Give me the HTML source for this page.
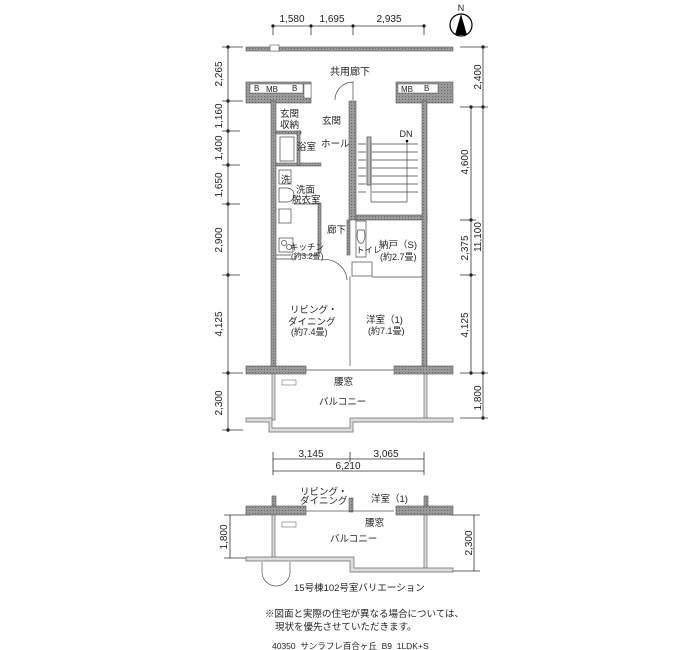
<!DOCTYPE html>
<html><head><meta charset="utf-8"><style>
body{margin:0;background:#fff}
svg{display:block}
text{font-family:"Liberation Sans","Noto Sans CJK JP",sans-serif;fill:#222}
</style></head><body>
<svg width="700" height="650" viewBox="0 0 700 650" xmlns="http://www.w3.org/2000/svg">
<defs>
<pattern id="h" width="3" height="3" patternUnits="userSpaceOnUse"><rect width="3" height="3" fill="#9a9a9a"/><rect width="1" height="1" fill="#666"/></pattern>
</defs>
<g stroke="#333" stroke-width="0.8" fill="none">
<line x1="273" y1="26" x2="424" y2="26"/>
<g fill="#000"><circle cx="273" cy="26" r="1.3"/><circle cx="311" cy="26" r="1.3"/><circle cx="353" cy="26" r="1.3"/><circle cx="424" cy="26" r="1.3"/></g>
<line x1="273" y1="26" x2="273" y2="35"/><line x1="311" y1="26" x2="311" y2="35"/><line x1="353" y1="26" x2="353" y2="35"/><line x1="424" y1="26" x2="424" y2="35"/>
<line x1="228" y1="47" x2="228" y2="432"/>
<g fill="#000"><circle cx="228" cy="47" r="1.3"/><circle cx="228" cy="101" r="1.3"/><circle cx="228" cy="131" r="1.3"/><circle cx="228" cy="165" r="1.3"/><circle cx="228" cy="204" r="1.3"/><circle cx="228" cy="275" r="1.3"/><circle cx="228" cy="373" r="1.3"/><circle cx="228" cy="430" r="1.3"/></g>
<line x1="222" y1="47" x2="243" y2="47"/><line x1="222" y1="101" x2="243" y2="101"/><line x1="222" y1="131" x2="240" y2="131"/><line x1="222" y1="165" x2="240" y2="165"/><line x1="222" y1="204" x2="240" y2="204"/><line x1="222" y1="275" x2="240" y2="275"/><line x1="222" y1="373" x2="243" y2="373"/><line x1="222" y1="430" x2="243" y2="430"/>
<line x1="483" y1="47" x2="483" y2="418"/>
<line x1="471" y1="107" x2="471" y2="373"/>
<g fill="#000"><circle cx="483" cy="47" r="1.3"/><circle cx="483" cy="107" r="1.3"/><circle cx="471" cy="107" r="1.3"/><circle cx="471" cy="220" r="1.3"/><circle cx="471" cy="275" r="1.3"/><circle cx="471" cy="373" r="1.3"/><circle cx="483" cy="373" r="1.3"/><circle cx="483" cy="418" r="1.3"/></g>
<line x1="460" y1="47" x2="488" y2="47"/><line x1="460" y1="107" x2="488" y2="107"/><line x1="460" y1="220" x2="476" y2="220"/><line x1="460" y1="275" x2="476" y2="275"/><line x1="460" y1="373" x2="488" y2="373"/><line x1="460" y1="418" x2="488" y2="418"/>
</g>
<g font-size="10" text-anchor="middle">
<text x="292" y="22">1,580</text><text x="332" y="22">1,695</text><text x="389" y="22">2,935</text>
</g>
<g font-size="10" text-anchor="middle">
<text transform="translate(222,74) rotate(-90)">2,265</text>
<text transform="translate(222,116) rotate(-90)">1,160</text>
<text transform="translate(222,148) rotate(-90)">1,400</text>
<text transform="translate(222,185) rotate(-90)">1,650</text>
<text transform="translate(222,240) rotate(-90)">2,900</text>
<text transform="translate(222,324) rotate(-90)">4,125</text>
<text transform="translate(222,403) rotate(-90)">2,300</text>
<text transform="translate(481,77) rotate(-90)">2,400</text>
<text transform="translate(468,162) rotate(-90)">4,600</text>
<text transform="translate(468,248) rotate(-90)">2,375</text>
<text transform="translate(468,325) rotate(-90)">4,125</text>
<text transform="translate(481,237) rotate(-90)">11,100</text>
<text transform="translate(481,398) rotate(-90)">1,800</text>
</g>
<circle cx="461" cy="25" r="11" fill="none" stroke="#000" stroke-width="1.2"/>
<polygon points="461,14 455,35 467,35" fill="#000"/>
<text x="461" y="11" font-size="9" text-anchor="middle">N</text>
<rect x="246" y="47" width="207" height="4" fill="url(#h)" stroke="#555" stroke-width="0.6"/>
<rect x="270" y="45" width="9" height="6" fill="#fff" stroke="#555" stroke-width="0.6"/>
<text x="350" y="75" font-size="10" text-anchor="middle">共用廊下</text>
<rect x="246" y="82" width="65" height="21" fill="url(#h)" stroke="#555" stroke-width="0.6"/>
<rect x="250" y="84" width="53" height="9" fill="#fff" stroke="#555" stroke-width="0.5"/>
<rect x="396" y="82" width="57" height="21" fill="url(#h)" stroke="#555" stroke-width="0.6"/>
<rect x="398" y="84" width="40" height="9" fill="#fff" stroke="#555" stroke-width="0.5"/>
<g font-size="8"><text x="254" y="91">B</text><text x="266" y="92">MB</text><text x="292" y="91">B</text><text x="401" y="92">MB</text><text x="424" y="91">B</text></g>
<rect x="304" y="84" width="7" height="14" fill="#fff" stroke="#555" stroke-width="0.5"/>
<g fill="url(#h)" stroke="#555" stroke-width="0.6">
<rect x="271" y="101" width="5" height="266"/>
<rect x="349" y="101" width="7" height="119"/>
<rect x="356" y="215" width="71" height="5"/>
<rect x="422" y="101" width="5" height="266"/>
<rect x="246" y="366" width="60" height="8"/>
<rect x="394" y="366" width="59" height="8"/>
<rect x="276" y="131" width="25" height="3"/>
<rect x="276" y="163" width="45" height="3"/>
<rect x="297" y="131" width="3" height="34"/>
<rect x="318" y="203" width="3" height="50"/>
<rect x="347" y="220" width="3" height="35"/>
</g>
<g stroke="#444" stroke-width="0.7" fill="none">
<rect x="280" y="137" width="14" height="24"/>
<path d="M335,100 A18,18 0 0 1 353,82 L353,100"/>
<rect x="279" y="170" width="12" height="14"/>
<path d="M279,188 h8 a6,6 0 0 1 0,14 h-8z"/>
<rect x="279" y="209" width="12" height="14"/>
<rect x="279" y="238" width="14" height="14"/>
<circle cx="284" cy="243" r="2.5"/><circle cx="289" cy="247" r="2.5"/>
<path d="M294,204 h24 M276,255 h15 M298,255 h20 M276,259 h20"/>
<path d="M321,260 A22,22 0 0 1 347,280"/>
<rect x="356" y="221" width="10" height="36"/>
<path d="M358,230 a4,8 0 1 0 6,0z"/>
<rect x="352" y="262" width="20" height="14"/>
<path d="M372,277 h50 M350,276 v90 M306,370 h88"/>
<path d="M358,144 h8 M358,152 h8 M358,160 h8 M358,168 h8 M358,176 h8 M358,184 h8 M358,192 h8"/>
<path d="M372,144 h46 M372,152 h46 M372,160 h46 M372,168 h46 M372,176 h46 M372,184 h46 M372,192 h46"/>
<rect x="367" y="137" width="4" height="48" fill="#bbb"/>
<path d="M371,142 v60 h36 v-60"/>
</g>
<circle cx="407" cy="141" r="1.3" fill="#000"/>
<text x="406" y="137" font-size="9" text-anchor="middle">DN</text>
<g font-size="9.5">
<text x="280" y="117">玄関</text><text x="280" y="128">収納</text>
<text x="322" y="124">玄関</text>
<text x="297" y="150">浴室</text>
<text x="321" y="147">ホール</text>
<text x="281" y="183">洗</text>
<text x="296" y="193">洗面</text><text x="292" y="203">脱衣室</text>
<text x="327" y="233">廊下</text>
<text x="290" y="250" font-size="8.5">キッチン</text>
<text x="291" y="259" font-size="8">(約3.2畳)</text>
<text x="356" y="253" font-size="8.5">トイレ</text>
<text x="379" y="248">納戸（S)</text>
<text x="380" y="260" font-size="9">(約2.7畳)</text>
<text x="290" y="313">リビング・</text>
<text x="288" y="325">ダイニング</text>
<text x="291" y="335" font-size="9">(約7.4畳)</text>
<text x="366" y="323">洋室（1)</text>
<text x="368" y="334" font-size="9">(約7.1畳)</text>
<text x="334" y="385">腰窓</text>
<text x="319" y="405">バルコニー</text>
</g>
<g stroke="#666" stroke-width="0.7" fill="#ddd">
<rect x="272" y="374" width="3" height="46"/>
<rect x="424" y="374" width="3" height="46"/>
<path d="M246,418 h26 v10 h78 v-10 h103 v4 h-100 v10 h-84 v-10 h-23z"/>
</g>
<rect x="282" y="380" width="14" height="5" fill="#fff" stroke="#555" stroke-width="0.5"/>
<g stroke="#333" stroke-width="0.8" fill="none">
<line x1="273" y1="459" x2="424" y2="459"/><line x1="273" y1="471" x2="424" y2="471"/>
<line x1="273" y1="452" x2="273" y2="475"/><line x1="350" y1="452" x2="350" y2="462"/><line x1="424" y1="452" x2="424" y2="475"/>
<line x1="230" y1="515" x2="230" y2="558"/><line x1="224" y1="515" x2="250" y2="515"/><line x1="224" y1="558" x2="250" y2="558"/>
<line x1="474" y1="515" x2="474" y2="571"/><line x1="450" y1="515" x2="480" y2="515"/><line x1="450" y1="571" x2="480" y2="571"/>
</g>
<g font-size="10" text-anchor="middle">
<text x="311" y="457">3,145</text><text x="386" y="457">3,065</text><text x="348" y="469">6,210</text>
<text transform="translate(227,537) rotate(-90)">1,800</text>
<text transform="translate(472,543) rotate(-90)">2,300</text>
</g>
<g fill="url(#h)" stroke="#555" stroke-width="0.6">
<rect x="246" y="506" width="60" height="9"/>
<rect x="396" y="506" width="57" height="9"/>
<rect x="272" y="496" width="4" height="10"/><rect x="424" y="496" width="4" height="10"/>
<rect x="349" y="498" width="4" height="14"/>
</g>
<g stroke="#666" stroke-width="0.7" fill="#ddd">
<rect x="272" y="515" width="3" height="45"/><rect x="424" y="515" width="3" height="56"/>
<path d="M246,557 h108 v11 h99 v4 h-103 v-11 h-104z"/>
</g>
<path d="M262,562 v10 a14,14 0 0 0 28,0 v-10" fill="none" stroke="#555" stroke-width="0.7"/>
<path d="M306,511 h88" stroke="#555" stroke-width="0.7"/>
<rect x="282" y="522" width="14" height="5" fill="#fff" stroke="#555" stroke-width="0.5"/>
<g font-size="9.5">
<text x="300" y="495">リビング・</text><text x="300" y="504">ダイニング</text>
<text x="371" y="502">洋室（1)</text>
<text x="365" y="526">腰窓</text>
<text x="330" y="542">バルコニー</text>
<text x="294" y="591">15号棟102号室バリエーション</text>
<text x="265" y="617">※図面と実際の住宅が異なる場合については、</text>
<text x="275" y="630">現状を優先させていただきます。</text>
<text x="272" y="649" font-size="8.5">40350_サンラフレ百合ヶ丘_B9_1LDK+S</text>
</g>
</svg>
</body></html>
